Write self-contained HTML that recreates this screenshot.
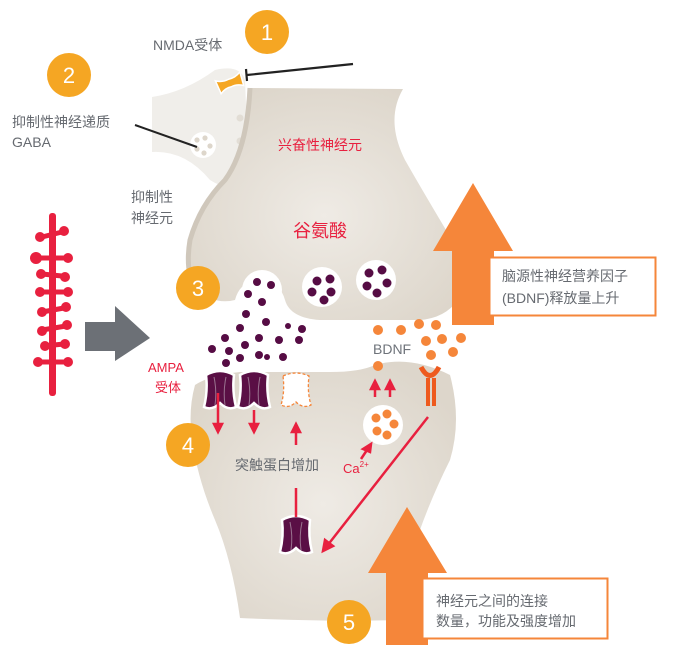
<!DOCTYPE html>
<html><head><meta charset="utf-8"><style>
body{margin:0;background:#fff}
svg{display:block}
text{font-family:"Liberation Sans","Noto Sans CJK SC",sans-serif}
</style></head><body>
<svg width="689" height="654" viewBox="0 0 689 654" xmlns="http://www.w3.org/2000/svg">
<defs>
<radialGradient id="g1" cx="0.5" cy="0.55" r="0.6"><stop offset="0" stop-color="#efebe5"/><stop offset="1" stop-color="#ddd6cb"/></radialGradient>
<g id="ampa"><path d="M-14,-16 Q0,-24 14,-16 Q12,0 16,16 Q8,20 0,12 Q-8,20 -16,16 Q-12,0 -14,-16Z" fill="#5a0f45" stroke="#fff" stroke-width="2.5"/><path d="M-6,-14 Q-3,0 -5,14 M6,-14 Q3,0 5,14" stroke="#9a7490" stroke-width="1" fill="none"/></g>
</defs>
<!-- inhibitory neuron -->
<path d="M152,97 Q185,92 215,70 Q240,64 245,80 L247,130 Q248,175 240,185 Q225,190 210,180 Q185,150 152,152Z" fill="#f0eeea"/>
<circle cx="203" cy="145" r="13" fill="#fff"/>
<g fill="#ddd6cb"><circle cx="197" cy="140" r="2.6"/><circle cx="205" cy="138" r="2.6"/><circle cx="210" cy="146" r="2.6"/><circle cx="197" cy="149" r="2.6"/><circle cx="204" cy="153" r="2.6"/></g>
<circle cx="240" cy="118" r="3.5" fill="#e2ddd5"/><circle cx="240" cy="141" r="3.5" fill="#e2ddd5"/>
<!-- presynaptic -->
<path d="M250,88 L403,89 Q385,120 405,160 Q425,195 452,240 Q465,275 458,300 Q445,318 420,320 L320,320 Q290,318 285,300 Q280,282 262,280 Q240,280 235,300 Q215,305 195,290 Q185,270 190,240 Q200,205 225,180 Q243,160 247,120Z" fill="url(#g1)"/>
<path d="M250,88 Q247,150 225,180 Q200,205 190,240 Q185,270 195,290" stroke="#cfc7bb" stroke-width="5" fill="none"/>
<!-- postsynaptic -->
<path d="M195,385 Q210,375 240,372 Q290,372 330,372 Q360,372 375,365 Q410,355 450,375 Q462,420 450,460 Q425,510 410,560 L400,620 Q330,622 240,618 Q232,560 215,520 Q198,480 192,440 Q188,410 195,385Z" fill="url(#g1)"/>
<!-- orange arrows -->
<path d="M473,183 L513,251 L494,251 L494,325 L452,325 L452,251 L433,251Z" fill="#f5863a"/>
<rect x="489.5" y="257.5" width="166" height="58" fill="#fff" stroke="#f5863a" stroke-width="2"/>
<text x="502" y="281" font-size="14" fill="#666a70">脑源性神经营养因子</text>
<text x="502" y="303" font-size="14" fill="#666a70">(BDNF)释放量上升</text>
<path d="M407,507 L447,573 L428,573 L428,645 L386,645 L386,573 L368,573Z" fill="#f5863a"/>
<rect x="422.5" y="578.5" width="185" height="60" fill="#fff" stroke="#f5863a" stroke-width="2"/>
<text x="436" y="606" font-size="14" fill="#666a70">神经元之间的连接</text>
<text x="436" y="626" font-size="14" fill="#666a70">数量，功能及强度增加</text>
<!-- circles numbers -->
<g fill="#f5a623"><circle cx="267" cy="32" r="22"/><circle cx="69" cy="75" r="22"/><circle cx="198" cy="288" r="22"/><circle cx="188" cy="445" r="22"/><circle cx="349" cy="622" r="22"/></g>
<g fill="#fff" font-size="22" text-anchor="middle"><text x="267" y="40">1</text><text x="69" y="83">2</text><text x="198" y="296">3</text><text x="188" y="453">4</text><text x="349" y="630">5</text></g>
<!-- labels -->
<text x="153" y="50" font-size="14" fill="#666a70">NMDA受体</text>
<text x="12" y="127" font-size="14" fill="#666a70">抑制性神经递质</text>
<text x="12" y="147" font-size="14" fill="#666a70">GABA</text>
<text x="131" y="202" font-size="14" fill="#666a70">抑制性</text>
<text x="131" y="223" font-size="14" fill="#666a70">神经元</text>
<text x="278" y="150" font-size="14" fill="#e8203f">兴奋性神经元</text>
<text x="293" y="237" font-size="18" fill="#e8203f">谷氨酸</text>
<text x="148" y="372" font-size="13" fill="#e8203f">AMPA</text>
<text x="155" y="392" font-size="13" fill="#e8203f">受体</text>
<text x="235" y="470" font-size="14" fill="#666a70">突触蛋白增加</text>
<text x="343" y="473" font-size="13" fill="#e8203f">Ca<tspan font-size="8" dy="-6">2+</tspan></text>
<text x="373" y="354" font-size="14" fill="#6e737a">BDNF</text>
<!-- lines -->
<path d="M135,125 L197,147" stroke="#222" stroke-width="2"/>
<path d="M353,64 L247,75 M246,69 L247,81" stroke="#222" stroke-width="2.2"/>
<g transform="translate(230,83) rotate(-20)">
<path d="M-13,-7 Q-7,-3 0,-4 Q7,-3 13,-7 L12,7 Q6,3 0,4 Q-6,3 -12,7Z" fill="#f5a623" stroke="#fff" stroke-width="1.5"/>
</g>
<!-- vesicles -->
<circle cx="262" cy="290" r="20" fill="#fff"/>
<circle cx="322" cy="287" r="20" fill="#fff"/>
<circle cx="376" cy="280" r="20" fill="#fff"/>
<g fill="#560c44">
<circle cx="257" cy="282" r="4"/><circle cx="271" cy="285" r="4"/><circle cx="248" cy="294" r="4"/><circle cx="262" cy="302" r="4"/>
<circle cx="317" cy="281" r="4.5"/><circle cx="330" cy="279" r="4.5"/><circle cx="312" cy="292" r="4.5"/><circle cx="331" cy="292" r="4.5"/><circle cx="324" cy="300" r="4.5"/>
<circle cx="369" cy="273" r="4.5"/><circle cx="382" cy="270" r="4.5"/><circle cx="387" cy="283" r="4.5"/><circle cx="367" cy="286" r="4.5"/><circle cx="377" cy="293" r="4.5"/>
<circle cx="246" cy="314" r="4"/><circle cx="266" cy="322" r="4"/><circle cx="240" cy="328" r="4"/><circle cx="259" cy="338" r="4"/><circle cx="225" cy="338" r="4"/><circle cx="245" cy="345" r="4"/><circle cx="279" cy="340" r="4"/><circle cx="259" cy="355" r="4"/><circle cx="283" cy="357" r="4"/><circle cx="212" cy="349" r="4"/><circle cx="229" cy="351" r="4"/><circle cx="226" cy="363" r="4"/><circle cx="240" cy="358" r="4"/><circle cx="267" cy="357" r="3"/><circle cx="299" cy="340" r="4"/><circle cx="302" cy="329" r="4"/><circle cx="288" cy="326" r="3"/>
</g>
<!-- BDNF dots -->
<g fill="#f5863a">
<circle cx="378" cy="330" r="5"/><circle cx="401" cy="330" r="5"/><circle cx="419" cy="324" r="5"/><circle cx="436" cy="325" r="5"/><circle cx="426" cy="341" r="5"/><circle cx="442" cy="339" r="5"/><circle cx="461" cy="338" r="5"/><circle cx="431" cy="355" r="5"/><circle cx="453" cy="352" r="5"/><circle cx="378" cy="366" r="5"/>
</g>
<circle cx="383" cy="425" r="20" fill="#fff"/>
<g fill="#f5863a"><circle cx="376" cy="418" r="4.5"/><circle cx="387" cy="414" r="4.5"/><circle cx="394" cy="424" r="4.5"/><circle cx="377" cy="431" r="4.5"/><circle cx="387" cy="435" r="4.5"/></g>
<!-- BDNF receptor -->
<path d="M421,367 Q430,384 439,367" stroke="#ee5a1e" stroke-width="5" fill="none"/>
<rect x="426" y="378" width="4" height="28" fill="#ee5a1e"/><rect x="432" y="378" width="4" height="28" fill="#ee5a1e"/>
<!-- AMPA -->
<use href="#ampa" x="220" y="391"/>
<use href="#ampa" x="254" y="391"/>
<use href="#ampa" x="296" y="536"/>
<path d="M283,376 Q296,370 309,376 Q307,392 311,405 Q303,409 296,402 Q289,409 281,405 Q285,392 283,376Z" fill="#fff" stroke="#f5863a" stroke-width="1.3" stroke-dasharray="3,2"/>
<!-- red arrows -->
<g stroke="#e8203f" stroke-width="2.5" fill="#e8203f">
<line x1="218" y1="393" x2="218" y2="425"/><path d="M214,424 L222,424 L218,432Z"/>
<line x1="254" y1="410" x2="254" y2="425"/><path d="M250,424 L258,424 L254,432Z"/>
<line x1="296" y1="445" x2="296" y2="430"/><path d="M292,432 L300,432 L296,424Z"/>
<line x1="296" y1="488" x2="296" y2="517"/>
<line x1="375" y1="397" x2="375" y2="387"/><path d="M371,389 L379,389 L375,381Z"/>
<line x1="390" y1="397" x2="390" y2="387"/><path d="M386,389 L394,389 L390,381Z"/>
<line x1="361" y1="459" x2="367" y2="450"/><path d="M363,449 L370,452 L371,444Z"/>
<line x1="428" y1="417" x2="327" y2="546"/><path d="M323,551 L325,540 L333,546Z"/>
</g>
<!-- dendrite -->
<g fill="#e8203f">
<rect x="49" y="213" width="7" height="183" rx="3"/>
<g stroke="#e8203f" stroke-width="5" stroke-linecap="round">
<line x1="42" y1="237" x2="62" y2="232"/><line x1="38" y1="258" x2="66" y2="258"/><line x1="42" y1="274" x2="62" y2="276"/><line x1="40" y1="292" x2="66" y2="292"/><line x1="42" y1="312" x2="64" y2="308"/><line x1="42" y1="330" x2="66" y2="326"/><line x1="44" y1="346" x2="64" y2="344"/><line x1="40" y1="362" x2="66" y2="362"/>
</g>
<g><circle cx="40" cy="237" r="5"/><circle cx="64" cy="231" r="5"/><circle cx="36" cy="258" r="6"/><circle cx="68" cy="258" r="5"/><circle cx="41" cy="274" r="5"/><circle cx="65" cy="277" r="5"/><circle cx="40" cy="292" r="5"/><circle cx="68" cy="292" r="5"/><circle cx="42" cy="312" r="5"/><circle cx="66" cy="307" r="5"/><circle cx="42" cy="331" r="5"/><circle cx="67" cy="325" r="5"/><circle cx="45" cy="346" r="5"/><circle cx="65" cy="344" r="5"/><circle cx="38" cy="362" r="5"/><circle cx="68" cy="362" r="5"/></g>
</g>
<!-- gray arrow -->
<path d="M85,322 L115,322 L115,306 L150,338 L115,361 L115,351 L85,351Z" fill="#6c7076"/>
</svg>
</body></html>
